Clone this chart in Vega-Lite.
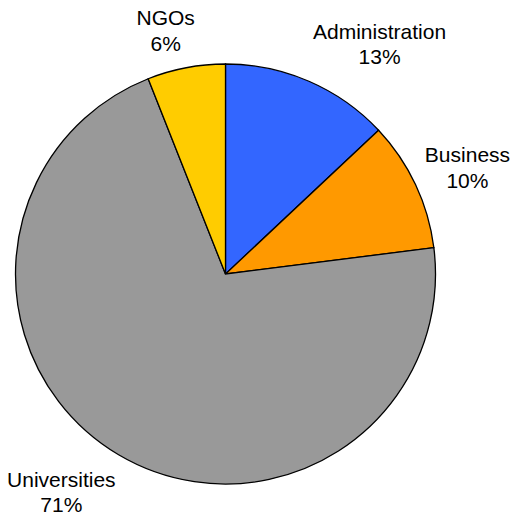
{
  "$schema": "https://vega.github.io/schema/vega-lite/v6.json",
  "autosize": {"type": "none"},
  "width": 451,
  "height": 482,
  "padding": {"left": 0, "top": 33, "right": 60, "bottom": 0},
  "background": "white",
  "data": {
    "values": [
      {"sector": "Administration", "share": 13, "pct": "13%", "rank": 1},
      {"sector": "Business", "share": 10, "pct": "10%", "rank": 2},
      {"sector": "Universities", "share": 71, "pct": "71%", "rank": 3},
      {"sector": "NGOs", "share": 6, "pct": "6%", "rank": 4}
    ]
  },
  "transform": [{"calculate": "datum.sector + '\\n' + datum.pct", "as": "label"}],
  "encoding": {
    "theta": {"field": "share", "type": "quantitative", "stack": true},
    "order": {"field": "rank", "type": "quantitative"},
    "color": {
      "field": "sector",
      "type": "nominal",
      "sort": null,
      "scale": {
        "domain": ["Administration", "Business", "Universities", "NGOs"],
        "range": ["#3366FF", "#FF9900", "#999999", "#FFCC00"]
      },
      "legend": null
    }
  },
  "layer": [
    {"mark": {"type": "arc", "outerRadius": 210, "stroke": "#000000", "strokeWidth": 1.3}},
    {
      "mark": {"type": "text", "radius": 275.5, "thetaOffset": 0.185, "dy": -12.75, "lineBreak": "\n", "lineHeight": 25.5, "font": "Liberation Sans", "fontSize": 21},
      "encoding": {"text": {"condition": {"test": "datum.sector === 'Administration'", "field": "label"}, "value": ""}, "color": {"value": "#000000"}}
    },
    {
      "mark": {"type": "text", "radius": 264.5, "thetaOffset": 0.024, "dy": -10.75, "lineBreak": "\n", "lineHeight": 25.5, "font": "Liberation Sans", "fontSize": 21},
      "encoding": {"text": {"condition": {"test": "datum.sector === 'Business'", "field": "label"}, "value": ""}, "color": {"value": "#000000"}}
    },
    {
      "mark": {"type": "text", "radius": 272.7, "thetaOffset": 0.112, "dy": -10.75, "lineBreak": "\n", "lineHeight": 25.5, "font": "Liberation Sans", "fontSize": 21},
      "encoding": {"text": {"condition": {"test": "datum.sector === 'Universities'", "field": "label"}, "value": ""}, "color": {"value": "#000000"}}
    },
    {
      "mark": {"type": "text", "radius": 249.3, "thetaOffset": -0.054, "dy": -12.75, "lineBreak": "\n", "lineHeight": 25.5, "font": "Liberation Sans", "fontSize": 21},
      "encoding": {"text": {"condition": {"test": "datum.sector === 'NGOs'", "field": "label"}, "value": ""}, "color": {"value": "#000000"}}
    }
  ],
  "config": {"view": {"stroke": null}}
}
